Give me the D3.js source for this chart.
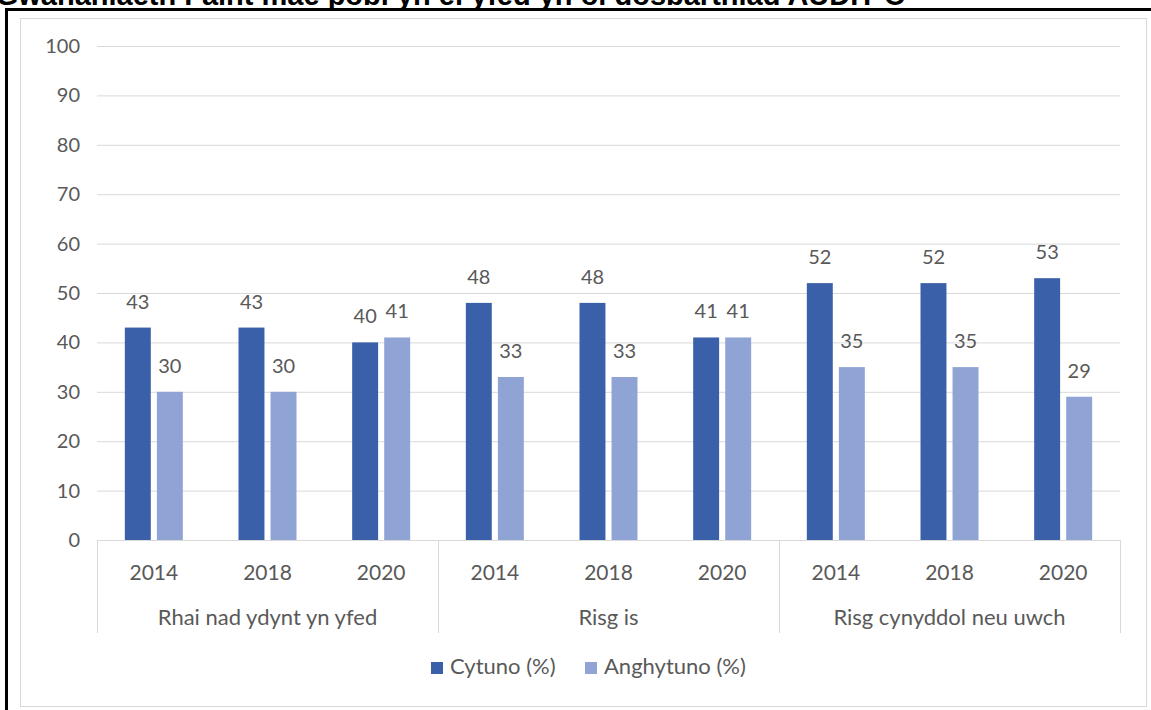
<!DOCTYPE html>
<html>
<head>
<meta charset="utf-8">
<script src="https://cdn.jsdelivr.net/npm/d3@7"></script>
<style>
  body { margin: 0; background: #fff; overflow: hidden; }
  svg { display: block; }
  text { font-family: Lato, "Open Sans", sans-serif; fill: #595959; }
</style>
</head>
<body>
<script>
// data
let groupNames = ["Rhai nad ydynt yn yfed", "Risg is", "Risg cynyddol neu uwch"];
let years = ["2014", "2018", "2020"];
let seriesNames = ["Cytuno (%)", "Anghytuno (%)"];
let cytuno = [43, 43, 40, 48, 48, 41, 52, 52, 53];
let anghytuno = [30, 30, 41, 33, 33, 41, 35, 35, 29];
let yTicks = [0, 10, 20, 30, 40, 50, 60, 70, 80, 90, 100];

let width = 1151;
let height = 710;
let colors = ["#3b60aa", "#8fa4d4"];

let svg = d3.select("body").append("svg")
  .attr("width", width)
  .attr("height", height);

// cut-off title above the frame (only its lower part shows)
svg.append("text")
  .attr("x", 905)
  .attr("y", 5)
  .attr("text-anchor", "end")
  .style("font-family", "Arial, 'Liberation Sans', sans-serif")
  .style("font-weight", "bold")
  .style("font-size", "29px")
  .style("fill", "#000")
  .text("Gwahaniaeth Faint mae pobl yn ei yfed yn ôl dosbarthiad AUDIT-C");

// outer black frame
svg.append("rect")
  .attr("x", 6.5).attr("y", 9.5)
  .attr("width", width).attr("height", height)
  .attr("fill", "none").attr("stroke", "#000").attr("stroke-width", 3);

// chart area border
svg.append("rect")
  .attr("x", 20.5).attr("y", 18.5)
  .attr("width", 1126).attr("height", 688)
  .attr("fill", "#fff").attr("stroke", "#d9d9d9");

let plotLeft = 97, plotRight = 1120, plotTop = 46, plotBottom = 540;

let cats = d3.cross(groupNames, years).map((d, i) => ({ group: d[0], year: d[1], i: i }));

let x = d3.scaleBand()
  .domain(d3.range(cats.length))
  .range([plotLeft, plotRight]);

let bw = x.bandwidth();
let x1 = d3.scaleBand()
  .domain(seriesNames)
  .range([bw / 2 - 29, bw / 2 + 29])
  .paddingInner(0.19);

let y = d3.scaleLinear()
  .domain([0, 100])
  .range([plotBottom, plotTop]);

// gridlines + y labels
let yAxis = d3.axisLeft(y).tickValues(yTicks).tickSize(-(plotRight - plotLeft)).tickPadding(17);
let gy = svg.append("g")
  .attr("transform", `translate(${plotLeft},0)`)
  .call(yAxis);
gy.select(".domain").remove();
gy.selectAll(".tick line").attr("stroke", "#d9d9d9");
gy.selectAll(".tick text")
  .style("font-size", "20px")
  .attr("fill", "#595959");

// category axis: base line, separators, labels
let groupBand = d3.scaleBand().domain(groupNames).range([plotLeft, plotRight]);

svg.append("line")
  .attr("x1", plotLeft).attr("x2", plotRight)
  .attr("y1", plotBottom + 0.5).attr("y2", plotBottom + 0.5)
  .attr("stroke", "#d9d9d9");

svg.selectAll(".sep")
  .data([...groupNames.map(g => groupBand(g)), plotRight])
  .join("line")
  .attr("class", "sep")
  .attr("x1", d => Math.round(d) + 0.5).attr("x2", d => Math.round(d) + 0.5)
  .attr("y1", plotBottom).attr("y2", 633)
  .attr("stroke", "#d9d9d9");

svg.selectAll(".year")
  .data(cats)
  .join("text")
  .attr("class", "year")
  .attr("x", d => x(d.i) + bw / 2)
  .attr("y", 580)
  .attr("text-anchor", "middle")
  .style("font-size", "21px")
  .text(d => d.year);

svg.selectAll(".grp")
  .data(groupNames)
  .join("text")
  .attr("class", "grp")
  .attr("x", d => groupBand(d) + groupBand.bandwidth() / 2)
  .attr("y", 625)
  .attr("text-anchor", "middle")
  .style("font-size", "22px")
  .text(d => d);

// bars
let barData = [];
cats.forEach(c => {
  barData.push({ i: c.i, s: seriesNames[0], v: cytuno[c.i], k: 0 });
  barData.push({ i: c.i, s: seriesNames[1], v: anghytuno[c.i], k: 1 });
});

svg.selectAll(".bar")
  .data(barData)
  .join("rect")
  .attr("class", "bar")
  .attr("x", d => x(d.i) + x1(d.s))
  .attr("y", d => y(d.v))
  .attr("width", x1.bandwidth())
  .attr("height", d => y(0) - y(d.v))
  .attr("fill", d => colors[d.k]);

svg.selectAll(".val")
  .data(barData)
  .join("text")
  .attr("class", "val")
  .attr("x", d => x(d.i) + x1(d.s) + x1.bandwidth() / 2)
  .attr("y", d => y(d.v) - 19)
  .attr("text-anchor", "middle")
  .style("font-size", "20px")
  .text(d => d.v);

// legend
let legend = svg.selectAll(".legend")
  .data(seriesNames)
  .join("g")
  .attr("class", "legend")
  .attr("transform", (d, i) => `translate(${[431, 585][i]},662)`);

legend.append("rect")
  .attr("width", 12).attr("height", 12)
  .attr("fill", (d, i) => colors[i]);

legend.append("text")
  .attr("x", 19)
  .attr("y", 12)
  .style("font-size", "22px")
  .text(d => d);
</script>
</body>
</html>
